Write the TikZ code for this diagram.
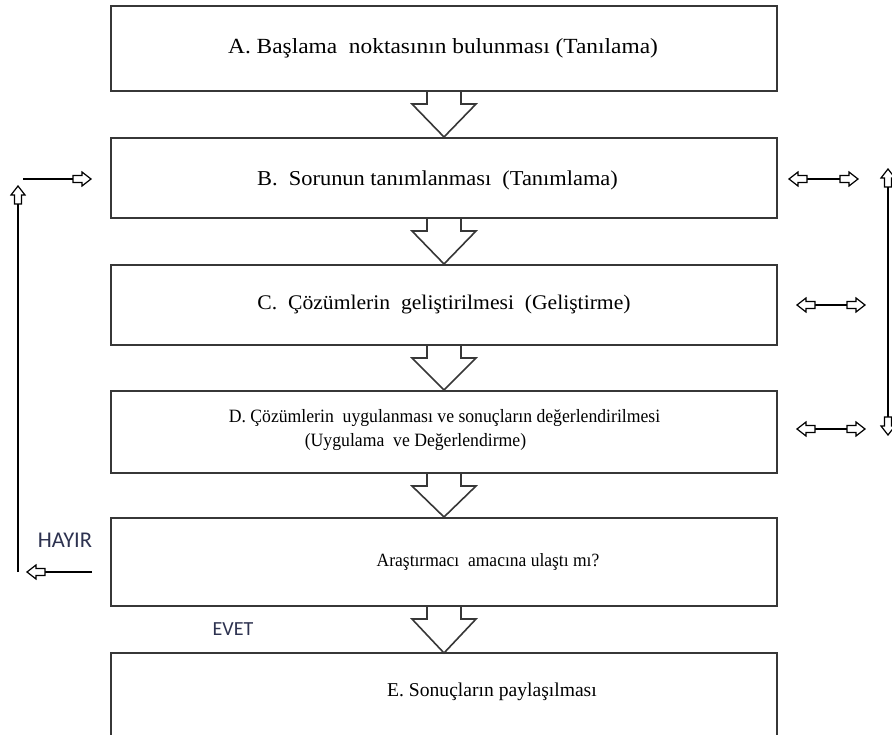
\documentclass[tikz,border=0pt]{standalone}
\usepackage{fontspec}
\setmainfont{Liberation Serif}
\newfontfamily\sansf{Carlito}
\usetikzlibrary{calc}
\definecolor{edge}{RGB}{55,55,55}
\definecolor{labc}{RGB}{45,50,80}
\tikzset{
  box/.style={draw=edge, line width=2pt, minimum width=666pt, inner sep=0pt, align=center},
  btext/.style={inner sep=0pt, align=center},
  arrline/.style={draw=edge, line width=1.6pt, line join=miter},
  thin/.style={draw=black, line width=1.3pt},
  hollow/.style={draw=black, line width=1.2pt, fill=white, line join=miter},
  lab/.style={inner sep=0pt, text=labc},
  harrow/.pic={\path[hollow] (0,0) -- (-9,-7) -- (-9,-3.5) -- (-18,-3.5) -- (-18,3.5) -- (-9,3.5) -- (-9,7) -- cycle;}
}
\newcommand\fsz[1]{\fontsize{#1}{#1}\selectfont}
\newcommand\wide[2]{\scalebox{#1}[1]{#2}}
\newcommand\blockarr[2]{%
  \draw[arrline] let \p1=(#1.south), \p2=(#2.north) in
    ($(\x1,\y1)+(-17pt,0)$) -- ($(\x1,\y1)+(-17pt,-12pt)$) -- ($(\x1,\y1)+(-32pt,-12pt)$)
    -- (\x1,\y2) -- ($(\x1,\y1)+(32pt,-12pt)$) -- ($(\x1,\y1)+(17pt,-12pt)$) -- ($(\x1,\y1)+(17pt,0)$);}
\begin{document}
\begin{tikzpicture}[x=1pt,y=-1pt]
\useasboundingbox (0,0) rectangle (892,735);
\fill[white] (0,0) rectangle (892,735);
% boxes
\node[box, minimum height=85pt] (a) at (444,48.5) {};
\node[btext, font=\fsz{21.6}] (at) at (443,48) {\wide{1.083}{A. Başlama\ \ noktasının bulunması (Tanılama)}};
\node[box, minimum height=80pt] (b) at (444,178) {};
\node[btext, font=\fsz{21.2}] (bt) at (437.5,180) {\wide{1.057}{B.\ \ Sorunun tanımlanması\ \ (Tanımlama)}};
\node[box, minimum height=80pt] (c) at (444,305) {};
\node[btext, font=\fsz{20.8}] (ct) at (444,305) {\wide{1.04}{C.\ \ Çözümlerin\ \ geliştirilmesi\ \ (Geliştirme)}};
\node[box, minimum height=82pt] (d) at (444,432) {};
\node[btext, font=\fsz{18.8}] (dt1) at (444.5,418) {\wide{0.94}{D. Çözümlerin\ \ uygulanması ve sonuçların değerlendirilmesi}};
\node[btext, font=\fsz{18.8}] (dt2) at (415.5,442) {\wide{0.94}{(Uygulama\ \ ve Değerlendirme)}};
\node[box, minimum height=88pt] (q) at (444,562) {};
\node[btext, font=\fsz{18.7}] (qt) at (488,562) {\wide{0.936}{Araştırmacı\ \ amacına ulaştı mı?}};
% E box, open at the bottom
\coordinate (en) at (444,653);
\draw[edge, line width=2pt] (111,736) -- (111,653) -- (777,653) -- (777,736);
\node[btext, font=\fsz{19.6}] (et) at (492,692) {E. Sonuçların paylaşılması};
% block arrows
\blockarr{a}{b}
\blockarr{b}{c}
\blockarr{c}{d}
\blockarr{d}{q}
\blockarr{q}{en}
% labels
\node[lab, font=\sansf\fsz{22.5}] (hayir) at (65,540) {HAYIR};
\node[lab, font=\sansf\fsz{20}] (evet) at (233,629) {EVET};
% left loop
\coordinate (l1) at (92,572);
\coordinate (l2) at (18,572);
\coordinate (l3) at (18,186);
\coordinate (l4) at (23,179);
\draw[thin] (l1) -- (44,572);
\pic at (27,572) [rotate=180] {harrow};
\draw[thin] (l2) -- (18,204);
\pic at (l3) [rotate=90] {harrow};
\draw[thin] (l4) -- (73,179);
\pic at (91,179) {harrow};
% right double arrows
\foreach \ya/\xl/\xr [count=\i] in {179/789/858, 305/797/865, 429/797/865}{
  \draw[thin] (\xl+18,\ya) -- (\xr-18,\ya);
  \pic at (\xl,\ya) [rotate=180] {harrow};
  \pic at (\xr,\ya) {harrow};
}
% right vertical
\coordinate (r1) at (888,169);
\coordinate (r2) at (888,435);
\draw[thin] ($(r1)+(0,18)$) -- ($(r2)+(0,-18)$);
\pic at (r1) [rotate=90] {harrow};
\pic at (r2) [rotate=-90] {harrow};
\end{tikzpicture}
\end{document}
